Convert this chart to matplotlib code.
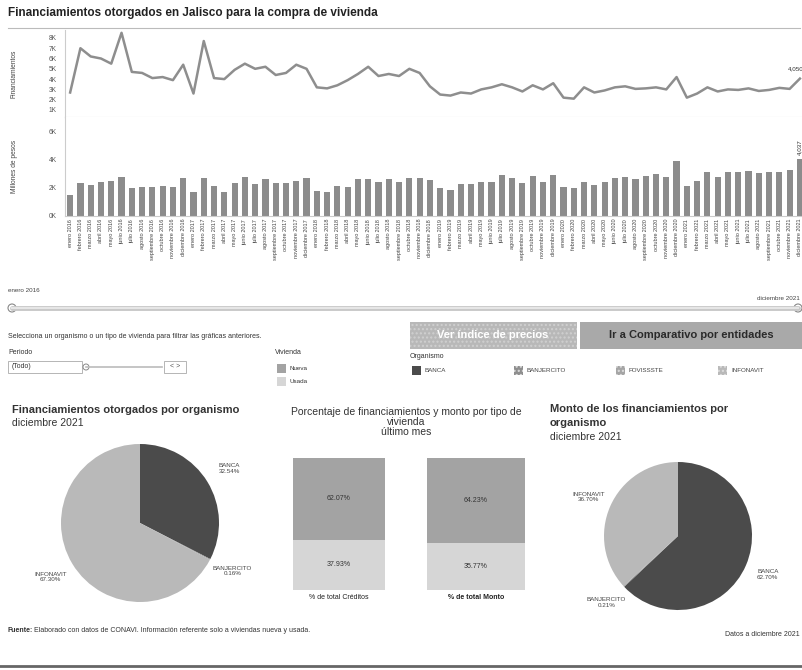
import numpy as np
import matplotlib.pyplot as plt
from matplotlib.patches import Rectangle, Circle
from matplotlib.ticker import FuncFormatter

plt.rcParams['font.family'] = ['Liberation Sans', 'DejaVu Sans']

W, H = 803, 670

# datos
meses = ['enero', 'febrero', 'marzo', 'abril', 'mayo', 'junio', 'julio',
         'agosto', 'septiembre', 'octubre', 'noviembre', 'diciembre']
anios = [2016, 2017, 2018, 2019, 2020, 2021]
periodos = [f'{m} {a}' for a in anios for m in meses]

# numero de financiamientos por mes
creditos = [2700, 7000, 6200, 6000, 5500, 8500, 4700, 4600, 4100, 4200,
            3900, 5400, 2600, 7700, 4100, 4000, 4900, 5500, 5000, 5200,
            4400, 4600, 5400, 5000, 3200, 3100, 3400, 3900, 4500, 5200,
            4300, 4500, 4300, 5000, 4600, 3300, 2500, 2400, 2700, 2600,
            3000, 3200, 3500, 3200, 2800, 3400, 3000, 3600, 2200, 2100,
            3200, 2700, 2900, 3200, 3300, 3050, 3100, 3200, 3000, 4200,
            2200, 2600, 3200, 2800, 3000, 2950, 3100, 2850, 2950, 3150,
            3050, 4050]

# monto en millones de pesos
monto = [1500, 2330, 2210, 2450, 2520, 2800, 1970, 2040, 2040, 2140,
         2090, 2730, 1730, 2730, 2140, 1730, 2380, 2760, 2280, 2610,
         2380, 2330, 2490, 2680, 1810, 1730, 2140, 2090, 2610, 2640,
         2450, 2640, 2420, 2700, 2730, 2570, 1970, 1850, 2280, 2280,
         2450, 2450, 2920, 2680, 2330, 2850, 2450, 2900, 2040, 1970,
         2450, 2210, 2400, 2680, 2800, 2610, 2870, 2990, 2800, 3950,
         2140, 2490, 3110, 2760, 3110, 3160, 3230, 3040, 3110, 3110,
         3280, 4037]

organismos = ['BANCA', 'BANJERCITO', 'INFONAVIT']
pct_creditos_org = [32.54, 0.16, 67.30]
pct_monto_org = [62.70, 0.21, 36.70]
legend_org = ['BANCA', 'BANJERCITO', 'FOVISSSTE', 'INFONAVIT']

tipos = ['Nueva', 'Usada']
pct_tipo_creditos = [62.07, 37.93]
pct_tipo_monto = [64.23, 35.77]

org_colors = {'BANCA': '#4b4b4b', 'BANJERCITO': '#8e8e8e',
              'FOVISSSTE': '#a5a5a5', 'INFONAVIT': '#b9b9b9'}

fig = plt.figure(figsize=(W / 100, H / 100), dpi=100)


def px_axes(x0, y0, x1, y1, **kw):
    return fig.add_axes([x0 / W, 1 - y1 / H, (x1 - x0) / W, (y1 - y0) / H], **kw)


# capa de fondo en pixeles para textos y controles
deco = px_axes(0, 0, W, H)
deco.set_xlim(0, W)
deco.set_ylim(H, 0)
deco.axis('off')

deco.text(8, 13, 'Financiamientos otorgados en Jalisco para la compra de vivienda',
          fontsize=8.5, fontweight='bold', color='#222', va='center')
deco.plot([8, 800], [28, 28], color='#bbbbbb', lw=0.8)

kfmt = FuncFormatter(lambda v, p: f'{int(round(v / 1000))}K')
x = np.arange(len(periodos))

# grafica de lineas
ax1 = px_axes(65, 30, 803, 117)
ax1.plot(x, creditos, color='#8e8e8e', lw=1.8)
ax1.set_xlim(-0.5, 71.3)
ax1.set_ylim(320, 8770)
ax1.set_yticks(range(1000, 9000, 1000))
ax1.yaxis.set_major_formatter(kfmt)
ax1.set_xticks([])
ax1.tick_params(axis='y', length=0, labelsize=4.8, colors='#555', pad=6)
ax1.set_ylabel('Financiamientos', fontsize=4.8, color='#444', labelpad=22)
for s in ['top', 'right']:
    ax1.spines[s].set_visible(False)
ax1.spines['left'].set_color('#cccccc')
ax1.spines['bottom'].set_color('#cccccc')
ax1.annotate(f'{creditos[-1]:,}', (x[-1], creditos[-1]), xytext=(3, 5),
             textcoords='offset points', ha='right', va='bottom',
             fontsize=4.5, color='#333')

# grafica de barras
ax2 = px_axes(65, 117, 803, 216)
ax2.bar(x, monto, width=0.6, color='#8c8c8c')
ax2.set_xlim(-0.5, 71.3)
ax2.set_ylim(0, 7060)
ax2.set_yticks([0, 2000, 4000, 6000])
ax2.yaxis.set_major_formatter(kfmt)
ax2.set_xticks(x)
ax2.set_xticklabels(periodos, rotation=90, fontsize=4, color='#444')
ax2.tick_params(axis='x', length=0, pad=2)
ax2.tick_params(axis='y', length=0, labelsize=4.8, colors='#555', pad=6)
ax2.set_ylabel('Millones de pesos', fontsize=4.8, color='#444', labelpad=22)
for s in ['top', 'right']:
    ax2.spines[s].set_visible(False)
ax2.spines['left'].set_color('#cccccc')
ax2.spines['bottom'].set_color('#cccccc')
ax2.annotate(f'{monto[-1]:,}', (x[-1], monto[-1]), xytext=(0, 3),
             textcoords='offset points', ha='center', va='bottom', rotation=90,
             fontsize=4.5, color='#333')

# control de periodo
deco.text(8, 291, 'enero 2016', fontsize=4.5, color='#444', va='center')
deco.text(800, 298, 'diciembre 2021', fontsize=4.5, color='#444', va='center', ha='right')
deco.plot([12, 798], [308, 308], color='#c8c8c8', lw=3.5, solid_capstyle='round')
deco.plot([12, 798], [308, 308], color='#e6e6e6', lw=1.5)
for cx in [12, 798]:
    deco.add_patch(Circle((cx, 308), 4, facecolor='white', edgecolor='#888', lw=0.8))

deco.text(8, 337, 'Selecciona un organismo o un tipo de vivienda para filtrar las gráficas anteriores.',
          fontsize=5, color='#333', va='center')
deco.text(8, 353, 'Periodo', fontsize=5, color='#333', va='center')
deco.add_patch(Rectangle((8, 361), 74, 12, facecolor='white', edgecolor='#aaa', lw=0.6))
deco.text(12, 367, '(Todo)', fontsize=5, color='#333', va='center')
deco.plot([86, 162], [367, 367], color='#bbb', lw=1.2)
deco.add_patch(Circle((86, 367), 3, facecolor='white', edgecolor='#888', lw=0.7))
deco.add_patch(Rectangle((164, 361), 22, 12, facecolor='white', edgecolor='#aaa', lw=0.6))
deco.text(175, 367, '< >', fontsize=5, color='#555', va='center', ha='center')

deco.text(275, 353, 'Vivienda', fontsize=5, color='#333', va='center')
for i, (t, c) in enumerate(zip(tipos, ['#a3a3a3', '#d6d6d6'])):
    deco.add_patch(Rectangle((277, 364 + i * 13), 9, 9, facecolor=c, edgecolor='none'))
    deco.text(290, 368.5 + i * 13, t, fontsize=4.5, color='#333', va='center')

# botones
deco.add_patch(Rectangle((410, 322), 167, 27, facecolor='#b8b8b8', edgecolor='#d0d0d0',
                         hatch='....', lw=0))
deco.text(493, 335.5, 'Ver índice de precios', fontsize=8, fontweight='bold',
          color='white', ha='center', va='center')
deco.add_patch(Rectangle((580, 322), 223, 27, facecolor='#a9a9a9', edgecolor='none'))
deco.text(691, 335.5, 'Ir a Comparativo por entidades', fontsize=8, fontweight='bold',
          color='#2a2a2a', ha='center', va='center')

deco.text(410, 356, 'Organismo', fontsize=5, color='#333', va='center')
for i, org in enumerate(legend_org):
    lx = 412 + i * 102
    deco.add_patch(Rectangle((lx, 366), 9, 9, facecolor=org_colors[org],
                             edgecolor='#dddddd' if i else 'none',
                             hatch='....' if i else None, lw=0))
    deco.text(lx + 13, 370.5, org, fontsize=4.5, color='#444', va='center')


# pasteles
def pie(ax, vals):
    wedges, _ = ax.pie(vals, colors=[org_colors[o] for o in organismos],
                       startangle=90, counterclock=False, radius=1)
    for w, lab, v in zip(wedges, organismos, vals):
        ang = np.deg2rad((w.theta1 + w.theta2) / 2)
        ax.text(1.32 * np.cos(ang), 1.32 * np.sin(ang), f'{lab}\n{v:.2f}%',
                ha='center', va='center', fontsize=4.5, color='#444', linespacing=1.1)
    ax.set_xlim(-1, 1)
    ax.set_ylim(-1, 1)


deco.text(12, 410, 'Financiamientos otorgados por organismo', fontsize=8,
          fontweight='bold', color='#333', va='center')
deco.text(12, 423, 'diciembre 2021', fontsize=7.5, color='#333', va='center')
pie(px_axes(61, 444, 219, 602), pct_creditos_org)

deco.text(406, 422, 'Porcentaje de financiamientos y monto por tipo de\nvivienda\núltimo mes',
          fontsize=7.5, color='#333', ha='center', va='center', linespacing=1.0)

for (x0, x1), vals, cap, fw in [((293, 385), pct_tipo_creditos, '% de total Créditos', 'normal'),
                                ((427, 525), pct_tipo_monto, '% de total Monto', 'bold')]:
    ax = px_axes(x0, 458, x1, 590)
    ax.bar(0, vals[1], width=1, color='#d6d6d6')
    ax.bar(0, vals[0], bottom=vals[1], width=1, color='#a3a3a3')
    ax.set_xlim(-0.5, 0.5)
    ax.set_ylim(0, 100)
    ax.axis('off')
    ax.text(0, vals[1] / 2, f'{vals[1]:.2f}%', ha='center', va='center', fontsize=5, color='#333')
    ax.text(0, vals[1] + vals[0] / 2, f'{vals[0]:.2f}%', ha='center', va='center',
            fontsize=5, color='#333')
    ax.text(0, -3, cap, ha='center', va='top', fontsize=5, color='#222', fontweight=fw)

deco.text(550, 409, 'Monto de los financiamientos por', fontsize=8,
          fontweight='bold', color='#333', va='center')
deco.text(550, 423, 'organismo', fontsize=8, fontweight='bold', color='#333', va='center')
deco.text(550, 437, 'diciembre 2021', fontsize=7.5, color='#333', va='center')
pie(px_axes(604, 462, 752, 610), pct_monto_org)

deco.text(8, 631, 'Fuente:', fontsize=5, fontweight='bold', color='#333', va='center')
deco.text(34, 631, 'Elaborado con datos de CONAVI. Información referente solo a viviendas nueva y usada.',
          fontsize=5, color='#333', va='center')
deco.text(800, 634, 'Datos a diciembre 2021', fontsize=5, color='#333', va='center', ha='right')
deco.plot([0, W], [666, 666], color='#666', lw=2)

plt.savefig('out.png', dpi=100)
